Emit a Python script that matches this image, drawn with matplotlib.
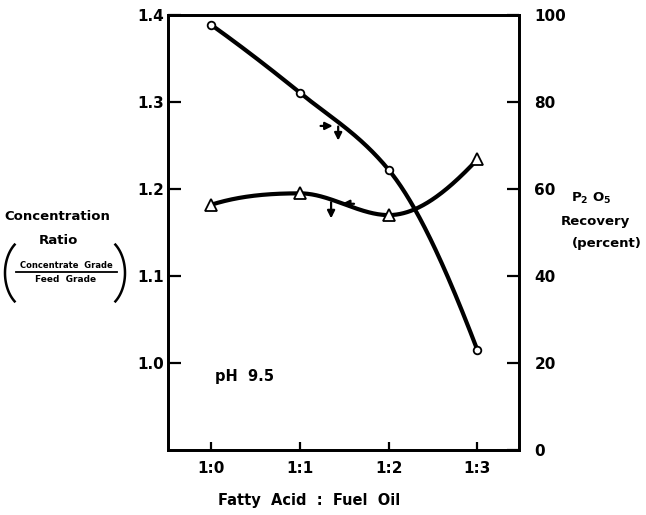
import numpy as np
import matplotlib
matplotlib.use("Agg")
import matplotlib.pyplot as plt

ratios = ["1:0", "1:1", "1:2", "1:3"]
conc_ratio = [1.182, 1.195, 1.170, 1.234]
recovery = [97.7, 82.1, 64.4, 23.0]
left_ticks = [1.0, 1.1, 1.2, 1.3, 1.4]
left_labels = ["1.0", "1.1", "1.2", "1.3", "1.4"]
right_ticks = [0, 20, 40, 60, 80, 100]

plt.rcParams['font.family'] = ['DejaVu Sans']
plt.rcParams['font.weight'] = 'bold'

W, H = 646, 515


def pchip(xk, yk, xq):
    xk = np.asarray(xk, float)
    yk = np.asarray(yk, float)
    h = np.diff(xk)
    d = np.diff(yk) / h
    n = len(xk)
    m = np.zeros(n)
    for k in range(1, n - 1):
        if d[k - 1] * d[k] > 0:
            w1 = 2 * h[k] + h[k - 1]
            w2 = h[k] + 2 * h[k - 1]
            m[k] = (w1 + w2) / (w1 / d[k - 1] + w2 / d[k])
        else:
            m[k] = 0.0
    m[0] = ((2 * h[0] + h[1]) * d[0] - h[0] * d[1]) / (h[0] + h[1])
    if np.sign(m[0]) != np.sign(d[0]):
        m[0] = 0
    m[-1] = ((2 * h[-1] + h[-2]) * d[-1] - h[-1] * d[-2]) / (h[-1] + h[-2])
    if np.sign(m[-1]) != np.sign(d[-1]):
        m[-1] = 0
    out = np.empty_like(xq)
    for i, xv in enumerate(xq):
        k = min(np.searchsorted(xk, xv, side='right') - 1, n - 2)
        k = max(k, 0)
        t = (xv - xk[k]) / h[k]
        h00 = 2 * t**3 - 3 * t**2 + 1
        h10 = t**3 - 2 * t**2 + t
        h01 = -2 * t**3 + 3 * t**2
        h11 = t**3 - t**2
        out[i] = h00 * yk[k] + h10 * h[k] * m[k] + h01 * yk[k + 1] + h11 * h[k] * m[k + 1]
    return out


fig = plt.figure(figsize=(W / 100, H / 100), dpi=100)
ax = fig.add_axes([168 / W, 1 - 450 / H, (519 - 168) / W, (450 - 15) / H])
ax2 = ax.twinx()

x = np.arange(len(ratios))
xs = np.linspace(0, 3, 300)

# concentration ratio (left axis)
ax.plot(xs, pchip(x, conc_ratio, xs), color='black', lw=3, solid_capstyle='round')
ax.plot(x, conc_ratio, linestyle='none', marker='^', markersize=9, mfc='white', mec='black', mew=1.3)

# recovery (right axis)
ax2.plot(xs, pchip(x, recovery, xs), color='black', lw=3, solid_capstyle='round')
ax2.plot(x, recovery, linestyle='none', marker='o', markersize=5.5, mfc='white', mec='black', mew=1.3)

ax.set_xlim(-0.49, 3.47)
ax.set_ylim(0.9, 1.4)
ax2.set_ylim(0, 100)

ax.set_xticks(x)
ax.set_xticklabels(ratios)
ax.set_yticks(left_ticks)
ax.set_yticklabels(left_labels)
ax2.set_yticks(right_ticks)

for a in (ax, ax2):
    for s in a.spines.values():
        s.set_linewidth(2)
    a.tick_params(direction='in', width=1.6, labelsize=11)
ax.tick_params(axis='y', length=9.5, pad=3)
ax2.tick_params(axis='y', length=9, pad=11)
ax.tick_params(axis='x', length=6, pad=8)

# direction arrows
ap = dict(arrowstyle='-|>', color='black', lw=1.6, mutation_scale=11)
ax2.annotate("", xy=(1.40, 74.5), xytext=(1.20, 74.5), arrowprops=ap)
ax2.annotate("", xy=(1.43, 70.5), xytext=(1.43, 75.0), arrowprops=ap)
ax.annotate("", xy=(1.44, 1.183), xytext=(1.64, 1.183), arrowprops=ap)
ax.annotate("", xy=(1.35, 1.163), xytext=(1.35, 1.188), arrowprops=ap)

ax.text(0.04, 0.984, "pH  9.5", fontsize=10.5, fontweight='bold', ha='left', va='center')

fig.text(309 / W, 1 - 500 / H, "Fatty  Acid  :  Fuel  Oil", ha='center', va='center',
         fontsize=10.5, fontweight='bold')

# left label
fig.text(57 / W, 1 - 216 / H, "Concentration", ha='center', va='center', fontsize=9.5, fontweight='bold')
fig.text(58 / W, 1 - 241 / H, "Ratio", ha='center', va='center', fontsize=9.5, fontweight='bold')
fig.text(66 / W, 1 - 265 / H, "Concentrate  Grade", ha='center', va='center', fontsize=6, fontweight='bold')
fig.text(66 / W, 1 - 280 / H, "Feed  Grade", ha='center', va='center', fontsize=6.5, fontweight='bold')
fig.add_artist(plt.Line2D([16 / W, 117 / W], [1 - 272 / H, 1 - 272 / H], color='black', lw=1.3))

# parentheses drawn as arcs
t = np.radians(np.linspace(128, 232, 60))
cxl, cyl, a_, b_ = 30, 273, 25, 36
fig.add_artist(plt.Line2D((cxl + a_ * np.cos(t)) / W, 1 - (cyl + b_ * np.sin(t)) / H,
                          color='black', lw=1.8))
cxr = 100
fig.add_artist(plt.Line2D((cxr - a_ * np.cos(t)) / W, 1 - (cyl + b_ * np.sin(t)) / H,
                          color='black', lw=1.8))

# right label
fig.text(591 / W, 1 - 198 / H, r"P$_\mathbf{2}$ O$_\mathbf{5}$", ha='center', va='center',
         fontsize=9.5, fontweight='bold')
fig.text(595 / W, 1 - 222 / H, "Recovery", ha='center', va='center', fontsize=9.5, fontweight='bold')
fig.text(607 / W, 1 - 243 / H, "(percent)", ha='center', va='center', fontsize=9.5, fontweight='bold')

fig.savefig("out.png", dpi=100)
